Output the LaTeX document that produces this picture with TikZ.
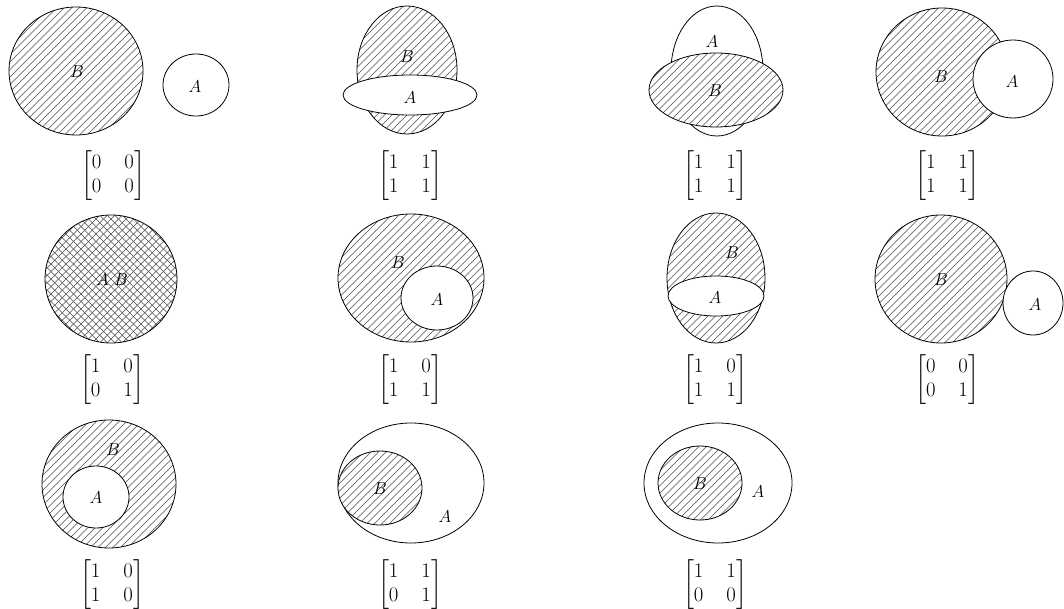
\documentclass[tikz,border=0pt]{standalone}
\usepackage{amsmath}
\usepackage{tikz}

\begin{document}
\begin{tikzpicture}[
    x=1pt, y=-1pt,
    outline/.style={draw=black, line width=0.8pt},
    hatch/.style={line width=0.45pt, draw=black!70},
    setA/.style={outline, fill=white},
    setB/.style={outline, fill=white, path picture={
        \foreach \k in {-120,-112.5,...,120}
            \draw [hatch] ([xshift={\k pt-150pt}, yshift=-150pt]path picture bounding box.center) -- ++(300,-300);}},
    setAB/.style={outline, fill=white, path picture={
        \foreach \k in {-120,-112.5,...,120} {
            \draw [hatch] ([xshift={\k pt-150pt}, yshift=-150pt]path picture bounding box.center) -- ++(300,-300);
            \draw [hatch] ([xshift={\k pt-150pt}, yshift=150pt]path picture bounding box.center) -- ++(300,300);}}},
    lab/.style={font=\fontsize{17}{20}\selectfont, inner sep=1pt},
    mat/.style={font=\fontsize{21}{24}\selectfont, inner sep=0pt, execute at begin node={\setlength{\arraycolsep}{11.5pt}}}
]
    \useasboundingbox (0,0) rectangle (1064,609);

    % row 1
    \draw [setB] (76,71) ellipse [x radius=67, y radius=64];
    \draw [setA] (196,85) ellipse [x radius=33, y radius=31];
    \node [lab] (b1) at (77,72) {$B$};
    \node [lab] (a1) at (195,87) {$A$};
    \node [mat] (m1) at (113,176) {$\begin{bmatrix}0&0\\0&0\end{bmatrix}$};

    \draw [setB] (407,70) ellipse [x radius=50, y radius=64];
    \draw [setA] (410,95) ellipse [x radius=67, y radius=20];
    \node [lab] (b2) at (407,57) {$B$};
    \node [lab] (a2) at (410,98) {$A$};
    \node [mat] (m2) at (410,176) {$\begin{bmatrix}1&1\\1&1\end{bmatrix}$};

    \draw [setA] (717,71) ellipse [x radius=46, y radius=65];
    \draw [setB] (716,90) ellipse [x radius=67, y radius=37];
    \node [lab] (a3) at (712,42) {$A$};
    \node [lab] (b3) at (715,91) {$B$};
    \node [mat] (m3) at (715,176) {$\begin{bmatrix}1&1\\1&1\end{bmatrix}$};

    \draw [setB] (942,72) ellipse [x radius=66, y radius=64];
    \draw [setA] (1013,79) ellipse [x radius=40, y radius=39];
    \node [lab] (b4) at (941,77) {$B$};
    \node [lab] (a4) at (1012,82) {$A$};
    \node [mat] (m4) at (947,176) {$\begin{bmatrix}1&1\\1&1\end{bmatrix}$};

    % row 2
    \draw [setAB] (111,279) ellipse [x radius=66, y radius=64];
    \node [lab] (ab5) at (112,280) {$A\ B$};
    \node [mat] (m5) at (112,380) {$\begin{bmatrix}1&0\\0&1\end{bmatrix}$};

    \draw [setB] (411,278) ellipse [x radius=73, y radius=64];
    \draw [setA] (437,298) ellipse [x radius=36, y radius=32];
    \node [lab] (b6) at (398,263) {$B$};
    \node [lab] (a6) at (437,300) {$A$};
    \node [mat] (m6) at (410,380) {$\begin{bmatrix}1&0\\1&1\end{bmatrix}$};

    \draw [setB] (716,278) ellipse [x radius=49, y radius=65];
    \draw [setA] (716,296) ellipse [x radius=48, y radius=20];
    \node [lab] (b7) at (732,253) {$B$};
    \node [lab] (a7) at (715,298) {$A$};
    \node [mat] (m7) at (715,380) {$\begin{bmatrix}1&0\\1&1\end{bmatrix}$};

    \draw [setB] (941,279) ellipse [x radius=66, y radius=64];
    \draw [setA] (1033,303) ellipse [x radius=30, y radius=32];
    \node [lab] (b8) at (941,280) {$B$};
    \node [lab] (a8) at (1035,305) {$A$};
    \node [mat] (m8) at (947,380) {$\begin{bmatrix}0&0\\0&1\end{bmatrix}$};

    % row 3
    \draw [setB] (109,484) ellipse [x radius=67, y radius=64];
    \draw [setA] (96,497) ellipse [x radius=33, y radius=31];
    \node [lab] (b9) at (113,450) {$B$};
    \node [lab] (a9) at (96,498) {$A$};
    \node [mat] (m9) at (112,585) {$\begin{bmatrix}1&0\\1&0\end{bmatrix}$};

    \draw [setA] (411,483) ellipse [x radius=73, y radius=60];
    \draw [setB] (380,488) ellipse [x radius=42, y radius=37];
    \node [lab] (b10) at (380,489) {$B$};
    \node [lab] (a10) at (445,517) {$A$};
    \node [mat] (m10) at (410,585) {$\begin{bmatrix}1&1\\0&1\end{bmatrix}$};

    \draw [setA] (718,483) ellipse [x radius=74, y radius=60];
    \draw [setB] (700,483) ellipse [x radius=42, y radius=37];
    \node [lab] (b11) at (700,484) {$B$};
    \node [lab] (a11) at (758,492) {$A$};
    \node [mat] (m11) at (715,585) {$\begin{bmatrix}1&1\\0&0\end{bmatrix}$};
\end{tikzpicture}
\end{document}
